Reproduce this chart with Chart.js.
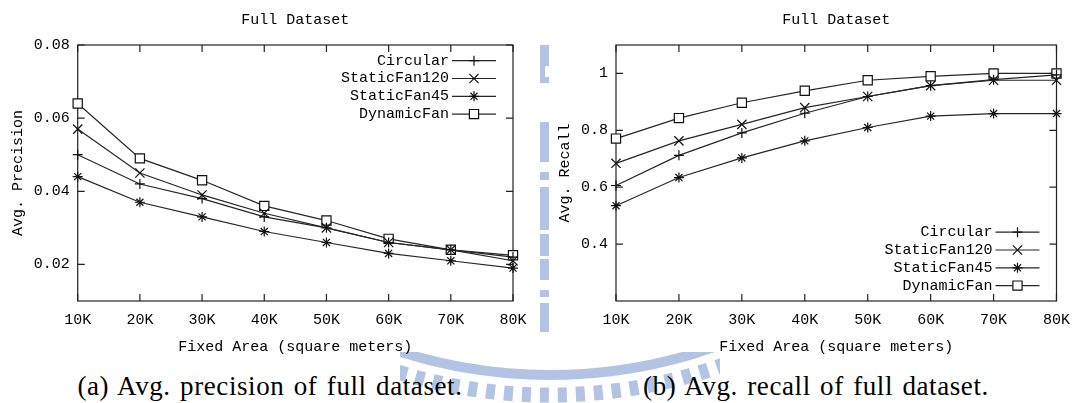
<!DOCTYPE html>
<html>
<head>
<meta charset="utf-8">
<script src="https://cdn.jsdelivr.net/npm/chart.js@4/dist/chart.umd.min.js"></script>
<style>
  body { margin: 0; background: #fff; width: 1080px; height: 403px; position: relative; overflow: hidden; }
  canvas { position: absolute; top: 0; }
  #precisionChart { left: 0; }
  #recallChart { left: 540px; }
  .wm { position: absolute; background: #b2c3e3; left: 540px; width: 9px; }
  #wmArc { position: absolute; left: 400px; top: 352px; width: 320px; height: 51px; overflow: hidden; }
  .cap { position: absolute; top: 370px; line-height: 32px; font-family: "Liberation Serif", serif; font-size: 27px;
         letter-spacing: 0.6px; word-spacing: 2px; white-space: nowrap; transform: translateX(-50%); color: #000; }
</style>
</head>
<body>
<!-- faint watermark behind the figures -->
<div class="wm" style="top:45px;height:21px"></div>
<div class="wm" style="top:66px;height:11px;width:5px"></div>
<div class="wm" style="top:77px;height:6px"></div>
<div class="wm" style="top:122px;height:40px"></div>
<div class="wm" style="top:172px;height:8px"></div>
<div class="wm" style="top:187px;height:43px"></div>
<div class="wm" style="top:234px;height:22px"></div>
<div class="wm" style="top:259px;height:21px"></div>
<div class="wm" style="top:290px;height:7px"></div>
<div class="wm" style="top:303px;height:29px"></div>
<div id="wmArc">
  <svg width="320" height="51">
    <circle cx="150" cy="-472" r="495" fill="none" stroke="#b2c3e3" stroke-width="10"/>
    <circle cx="150" cy="-472" r="515" fill="none" stroke="#b2c3e3" stroke-width="15" stroke-dasharray="9 9"/>
  </svg>
</div>

<canvas id="precisionChart" width="540" height="360"></canvas>
<canvas id="recallChart" width="540" height="360"></canvas>

<div class="cap" style="left:270px">(a) Avg. precision of full dataset.</div>
<div class="cap" style="left:816px">(b) Avg. recall of full dataset.</div>

<script>
const areaLabels = ['10K', '20K', '30K', '40K', '50K', '60K', '70K', '80K'];
const seriesNames = ['Circular', 'StaticFan120', 'StaticFan45', 'DynamicFan'];

// Avg. precision
const precisionCircular = [0.050, 0.042, 0.038, 0.033, 0.030, 0.026, 0.024, 0.022];
const precisionFan120 = [0.057, 0.045, 0.039, 0.034, 0.030, 0.026, 0.024, 0.021];
const precisionFan45 = [0.044, 0.037, 0.033, 0.029, 0.026, 0.023, 0.021, 0.019];
const precisionDynamic = [0.064, 0.049, 0.043, 0.036, 0.032, 0.027, 0.024, 0.0225];
const precisionTicks = [0.02, 0.04, 0.06, 0.08];
const precisionTickLabels = ['0.02', '0.04', '0.06', '0.08'];

// Avg. recall
const recallCircular = [0.606, 0.712, 0.791, 0.860, 0.919, 0.957, 0.978, 0.995];
const recallFan120 = [0.684, 0.763, 0.821, 0.880, 0.919, 0.957, 0.976, 0.976];
const recallFan45 = [0.535, 0.634, 0.703, 0.763, 0.810, 0.850, 0.859, 0.859];
const recallDynamic = [0.771, 0.843, 0.897, 0.939, 0.976, 0.990, 1.000, 1.000];
const recallTicks = [0.4, 0.6, 0.8, 1];
const recallTickLabels = ['0.4', '0.6', '0.8', '1'];

const monoFont = '"Liberation Mono", monospace';
Chart.defaults.font.family = monoFont;
Chart.defaults.font.size = 15;
Chart.defaults.color = '#000';

// gnuplot-like marker per series
const markers = {
    Circular: { style: 'cross', radius: 5, fill: 'rgba(0,0,0,0)' },
    StaticFan120: { style: 'crossRot', radius: 6.5, fill: 'rgba(0,0,0,0)' },
    StaticFan45: { style: 'star', radius: 5, fill: 'rgba(0,0,0,0)' },
    DynamicFan: { style: 'rect', radius: 6.5, fill: '#fff' }
};

function makeDataset(name, values) {
    const m = markers[name];
    return {
        label: name,
        data: values,
        borderColor: '#262626',
        borderWidth: 1.2,
        pointStyle: m.style,
        pointRadius: m.radius,
        pointBorderColor: '#111',
        pointBackgroundColor: m.fill,
        pointBorderWidth: 1.2,
        tension: 0,
        fill: false
    };
}

// frame round the plot with inward ticks on all four sides
const frameTicks = {
    id: 'frameTicks',
    beforeDatasetsDraw(chart) {
        const { ctx, chartArea: a, scales: { x, y } } = chart;
        ctx.save();
        ctx.strokeStyle = '#222';
        ctx.lineWidth = 1.2;
        ctx.strokeRect(a.left, a.top, a.right - a.left, a.bottom - a.top);
        ctx.beginPath();
        x.ticks.forEach((t, i) => {
            const px = x.getPixelForTick(i);
            ctx.moveTo(px, a.bottom); ctx.lineTo(px, a.bottom - 7);
            ctx.moveTo(px, a.top); ctx.lineTo(px, a.top + 7);
        });
        y.ticks.forEach(t => {
            const py = y.getPixelForValue(t.value);
            ctx.moveTo(a.left, py); ctx.lineTo(a.left + 7, py);
            ctx.moveTo(a.right, py); ctx.lineTo(a.right - 7, py);
        });
        ctx.stroke();
        ctx.restore();
    }
};

// key with the sample line to the right of the right-aligned label
const sideLegend = {
    id: 'sideLegend',
    afterDatasetsDraw(chart, args, opts) {
        const { ctx, chartArea: a } = chart;
        const sets = chart.data.datasets;
        const step = 17.8;
        const y0 = opts.fromTop != null
            ? a.top + opts.fromTop
            : a.bottom - opts.fromBottom - step * (sets.length - 1);
        const x2 = a.right - 17, x1 = x2 - 44, xm = (x1 + x2) / 2;
        ctx.save();
        ctx.font = '15px ' + monoFont;
        ctx.textAlign = 'right';
        ctx.textBaseline = 'middle';
        sets.forEach((ds, i) => {
            const yy = y0 + i * step;
            ctx.fillStyle = '#000';
            ctx.fillText(ds.label, x1 - 3, yy);
            ctx.strokeStyle = ds.borderColor;
            ctx.lineWidth = ds.borderWidth;
            ctx.beginPath(); ctx.moveTo(x1, yy); ctx.lineTo(x2, yy); ctx.stroke();
            ctx.fillStyle = ds.pointBackgroundColor;
            ctx.strokeStyle = ds.pointBorderColor;
            ctx.lineWidth = ds.pointBorderWidth;
            Chart.helpers.drawPoint(ctx, {
                pointStyle: ds.pointStyle, radius: ds.pointRadius, rotation: 0, borderWidth: ds.pointBorderWidth
            }, xm, yy);
        });
        ctx.restore();
    }
};

function makeChart(id, cfg) {
    return new Chart(document.getElementById(id), {
        type: 'line',
        data: { labels: areaLabels, datasets: cfg.datasets },
        options: {
            responsive: false,
            devicePixelRatio: 1,
            animation: false,
            layout: { padding: { left: 0, right: cfg.padRight, top: 0, bottom: 0 } },
            scales: {
                x: {
                    type: 'category',
                    offset: false,
                    grid: { display: false, drawTicks: false },
                    border: { display: false },
                    ticks: { padding: 10, maxRotation: 0, autoSkip: false, color: '#000' },
                    title: { display: true, text: 'Fixed Area (square meters)', padding: { top: 4, bottom: 4 }, color: '#000' },
                    afterFit: s => { s.height = 59; }
                },
                y: {
                    min: cfg.yMin,
                    max: cfg.yMax,
                    grid: { display: false, drawTicks: false },
                    border: { display: false },
                    afterBuildTicks: s => { s.ticks = cfg.tickValues.map(v => ({ value: v })); },
                    ticks: {
                        padding: 8,
                        color: '#000',
                        callback: v => cfg.tickLabels[cfg.tickValues.indexOf(v)]
                    },
                    title: { display: true, text: cfg.yTitle, padding: { top: cfg.yTitlePad, bottom: 4 }, color: '#000' },
                    afterFit: s => { s.width = cfg.yWidth; }
                }
            },
            plugins: {
                legend: { display: false },
                tooltip: { enabled: false },
                title: {
                    display: true,
                    text: 'Full Dataset',
                    fullSize: false,
                    color: '#000',
                    font: { size: 15, weight: 'normal' },
                    padding: { top: 11, bottom: 16 }
                },
                sideLegend: cfg.legend
            }
        },
        plugins: [frameTicks, sideLegend]
    });
}

makeChart('precisionChart', {
    datasets: [
        makeDataset(seriesNames[0], precisionCircular),
        makeDataset(seriesNames[1], precisionFan120),
        makeDataset(seriesNames[2], precisionFan45),
        makeDataset(seriesNames[3], precisionDynamic)
    ],
    yMin: 0.01, yMax: 0.08,
    tickValues: precisionTicks, tickLabels: precisionTickLabels,
    yTitle: 'Avg. Precision', yTitlePad: 9.4, yWidth: 77.7,
    padRight: 27,
    legend: { fromTop: 15.7 }
});

makeChart('recallChart', {
    datasets: [
        makeDataset(seriesNames[0], recallCircular),
        makeDataset(seriesNames[1], recallFan120),
        makeDataset(seriesNames[2], recallFan45),
        makeDataset(seriesNames[3], recallDynamic)
    ],
    yMin: 0.2, yMax: 1.1,
    tickValues: recallTicks, tickLabels: recallTickLabels,
    yTitle: 'Avg. Recall', yTitlePad: 16, yWidth: 76,
    padRight: 18,
    legend: { fromBottom: 15.4 }
});
</script>
</body>
</html>
